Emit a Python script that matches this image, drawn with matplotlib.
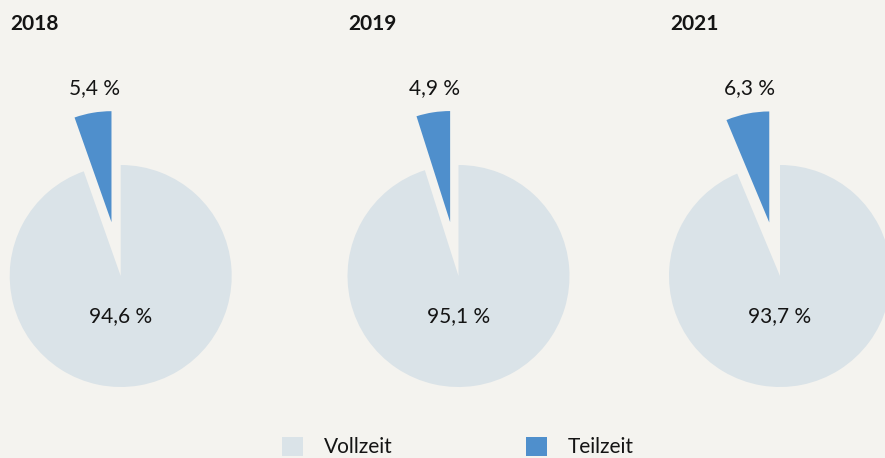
import numpy as np
import matplotlib
matplotlib.use('Agg')
import matplotlib.pyplot as plt

plt.rcParams['font.family'] = ['Lato', 'DejaVu Sans']

# ---- data ----
years = ['2018', '2019', '2021']
categories = ['Vollzeit', 'Teilzeit']
vollzeit = [94.6, 95.1, 93.7]
teilzeit = [5.4, 4.9, 6.3]
vollzeit_labels = ['94,6 %', '95,1 %', '93,7 %']
teilzeit_labels = ['5,4 %', '4,9 %', '6,3 %']

# ---- style ----
BG = '#f4f3ef'
C_VOLL = '#dae3e8'
C_TEIL = '#4f8fcc'
TXT = '#141414'

W, H = 885, 458
fig = plt.figure(figsize=(W / 100, H / 100), dpi=100)
fig.patch.set_facecolor(BG)
ax = fig.add_axes([0, 0, 1, 1])
ax.set_facecolor(BG)

centers_x = [120.7, 458.5, 780.0]
cy = H - 276
R = 111
explode_d = 54.6

legend_handles = None
for i, yr in enumerate(years):
    cx = centers_x[i]
    wedges, _ = ax.pie([vollzeit[i], teilzeit[i]], colors=[C_VOLL, C_TEIL],
                       startangle=90, counterclock=False,
                       explode=[0, explode_d], radius=R, center=(cx, cy),
                       frame=True, wedgeprops=dict(linewidth=0))
    if legend_handles is None:
        legend_handles = wedges
    # Vollzeit label
    ax.text(cx, H - 316, vollzeit_labels[i], ha='center', va='center',
            fontsize=15, color=TXT)
    # Teilzeit label above exploded wedge
    w = wedges[1]
    wx, wy = w.center
    t1, t2 = np.deg2rad(w.theta1), np.deg2rad(w.theta2)
    lx = wx + R * (np.cos(t1) + np.cos(t2)) / 2 + 1.5
    ax.text(lx, H - 88, teilzeit_labels[i], ha='center', va='center',
            fontsize=15, color=TXT)
    # year title
    ax.text(cx - 110, H - 24, yr, ha='left', va='center', fontsize=15,
            fontweight='bold', color=TXT)

ax.set_xlim(0, W)
ax.set_ylim(0, H)
ax.set_aspect('equal')
ax.axis('off')

fig.legend(handles=legend_handles, labels=categories, ncol=2,
           loc='upper left', bbox_to_anchor=(282 / W, 1 - 437 / H),
           frameon=False, handlelength=1.0, handleheight=1.0,
           handletextpad=1.0, columnspacing=6.4, borderpad=0,
           borderaxespad=0, fontsize=15, labelcolor=TXT)

fig.savefig('out.png', dpi=100, facecolor=BG)
